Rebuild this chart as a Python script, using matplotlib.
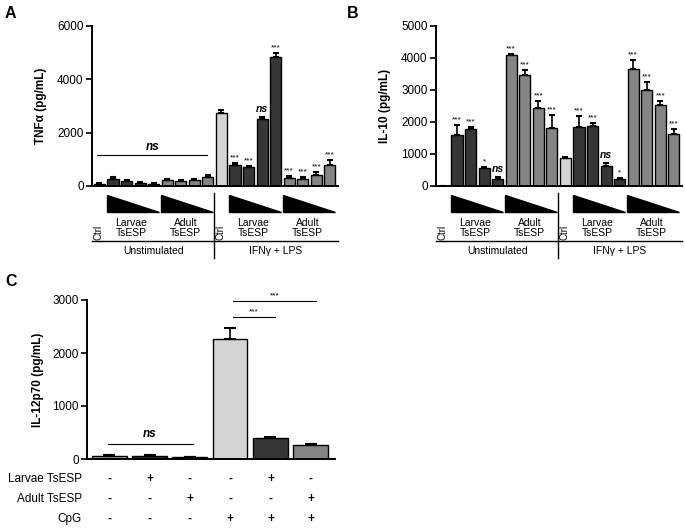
import numpy as np
import matplotlib
matplotlib.use("Agg")
import matplotlib.pyplot as plt
from matplotlib import transforms
from matplotlib.patches import Polygon

plt.rcParams["font.family"] = ["Liberation Sans", "DejaVu Sans"]

# colours per bar slot: ctrl, larvae x4, adult x4 (unstim), then same for IFNg+LPS
DARK = "#363636"
GRAY = "#858585"
LIGHT = "#d4d4d4"
bar_colors = (["white"] + [DARK] * 4 + [GRAY] * 4 +
              [LIGHT] + [DARK] * 4 + [GRAY] * 4)

# panel A - TNFa
tnf_vals = [80, 250, 200, 120, 90, 220, 200, 210, 350,
            2720, 800, 700, 2500, 4850, 300, 270, 430, 780]
tnf_err = [20, 100, 40, 30, 30, 40, 30, 40, 80,
           120, 60, 50, 80, 150, 80, 60, 100, 200]
tnf_sig = ["", "", "", "", "", "", "", "", "",
           "", "***", "***", "ns", "***", "***", "***", "***", "***"]

# panel B - IL-10
il10_vals = [10, 1600, 1780, 550, 220, 4080, 3470, 2430, 1820,
             870, 1850, 1880, 640, 220, 3650, 3000, 2520, 1640]
il10_err = [5, 300, 60, 30, 50, 30, 170, 220, 400,
            40, 330, 90, 80, 30, 280, 240, 130, 150]
il10_sig = ["", "***", "***", "*", "ns", "***", "***", "***", "***",
            "", "***", "***", "ns", "*", "***", "***", "***", "***"]

# panel C - IL-12p70
c_vals = [50, 60, 30, 2270, 390, 265]
c_err = [20, 20, 15, 200, 30, 25]
c_colors = ["#a3a3a3", DARK, DARK, LIGHT, DARK, GRAY]
c_rows = ["Larvae TsESP", "Adult TsESP", "CpG"]
c_table = [["-", "+", "-", "-", "+", "-"],
           ["-", "-", "+", "-", "-", "+"],
           ["-", "-", "-", "+", "+", "+"]]

fig = plt.figure(figsize=(6.85, 5.30), dpi=100)


def style(ax, ymax, step):
    for s in ["top", "right"]:
        ax.spines[s].set_visible(False)
    for s in ["left", "bottom"]:
        ax.spines[s].set_linewidth(1.4)
    ax.set_ylim(0, ymax)
    ax.set_yticks(np.arange(0, ymax + 1, step))
    ax.tick_params(axis="y", labelsize=8.5, length=4, width=1.2, pad=2)
    ax.set_xticks([])


def cytokine_panel(ax, vals, err, sig, ymax, step, ylabel):
    x = np.arange(len(vals))
    ax.bar(x, vals, width=0.82, color=bar_colors, edgecolor="black", linewidth=1)
    ax.errorbar(x, vals, yerr=[np.zeros(len(err)), err], fmt="none",
                ecolor="black", elinewidth=1.2, capsize=2, capthick=1.5)
    for xi, v, e, s in zip(x, vals, err, sig):
        if not s:
            continue
        if s == "ns":
            ax.text(xi, v + e + ymax * 0.02, s, ha="center", va="bottom",
                    fontsize=7.5, style="italic", fontweight="bold")
        else:
            ax.text(xi, v + e + ymax * 0.01, s, ha="center", va="bottom",
                    fontsize=6)
    style(ax, ymax, step)
    ax.set_xlim(-0.55, 17.6)
    ax.set_ylabel(ylabel, fontsize=8.5, fontweight="bold", labelpad=7)

    # labels below the axis
    tr = transforms.blended_transform_factory(ax.transData, ax.transAxes)
    for i0 in [1, 5, 10, 14]:
        tri = Polygon([[i0 - 0.45, -0.056], [i0 - 0.45, -0.1625],
                       [i0 + 3.4, -0.1625]], closed=True, color="black",
                      transform=tr, clip_on=False)
        ax.add_patch(tri)
        name = "Larvae\nTsESP" if i0 in (1, 10) else "Adult\nTsESP"
        ax.text(i0 + 1.35, -0.2625, name, transform=tr, ha="center",
                va="center", fontsize=7.5, linespacing=1.05)
    for xc in [-0.1, 8.9]:
        ax.text(xc, -0.29, "Ctrl", transform=tr, rotation=90, ha="center",
                va="center", fontsize=7)
    ax.plot([-0.55, 17.6], [-0.344, -0.344], transform=tr, color="black",
            lw=1, clip_on=False)
    ax.plot([8.45, 8.45], [-0.044, -0.45], transform=tr, color="black",
            lw=1, clip_on=False)
    ax.text(4.0, -0.406, "Unstimulated", transform=tr, ha="center",
            va="center", fontsize=7.5)
    ax.text(13.0, -0.406, "IFN\u03b3 + LPS", transform=tr, ha="center",
            va="center", fontsize=7.5)
    return ax


axA = fig.add_axes([92 / 685, 1 - 186 / 530, 246 / 685, 160 / 530])
cytokine_panel(axA, tnf_vals, tnf_err, tnf_sig, 6000, 2000,
               "TNF\u03b1 (pg/mL)")
axA.plot([-0.18, 7.94], [1150, 1150], color="black", lw=0.8)
axA.text(3.9, 1230, "ns", ha="center", va="bottom", fontsize=8.5,
         style="italic", fontweight="bold")

axB = fig.add_axes([436 / 685, 1 - 186 / 530, 246 / 685, 160 / 530])
cytokine_panel(axB, il10_vals, il10_err, il10_sig, 5000, 1000,
               "IL-10 (pg/mL)")

# panel C
axC = fig.add_axes([87 / 685, 1 - 459 / 530, 248 / 685, 159 / 530])
xc = np.arange(len(c_vals))
axC.bar(xc, c_vals, width=0.86, color=c_colors, edgecolor="black", linewidth=1)
axC.errorbar(xc, c_vals, yerr=[np.zeros(len(c_err)), c_err], fmt="none",
             ecolor="black", elinewidth=1.2, capsize=4, capthick=1.5)
style(axC, 3000, 1000)
axC.set_xlim(-0.55, 5.6)
axC.set_ylabel("IL-12p70 (pg/mL)", fontsize=8.5, fontweight="bold",
               labelpad=6)
axC.plot([-0.03, 2.08], [285, 285], color="black", lw=0.8)
axC.text(1.0, 350, "ns", ha="center", va="bottom", fontsize=8.5,
         style="italic", fontweight="bold")
axC.plot([3.07, 4.1], [2680, 2680], color="black", lw=0.8)
axC.text(3.58, 2710, "***", ha="center", va="bottom", fontsize=6)
axC.plot([3.07, 5.13], [2990, 2990], color="black", lw=0.8)
axC.text(4.1, 3020, "***", ha="center", va="bottom", fontsize=6,
         clip_on=False)
trC = transforms.blended_transform_factory(axC.transData, axC.transAxes)
for r, (lab, row) in enumerate(zip(c_rows, c_table)):
    yy = -0.126 - 0.126 * r
    axC.text(-0.02, yy, lab, transform=axC.transAxes, ha="right", va="center",
             fontsize=8.5)
    for xi, s in zip(xc, row):
        axC.text(xi, yy, s, transform=trC, ha="center", va="center",
                 fontsize=8.5, fontweight="bold")

fig.text(5 / 685, 1 - 14 / 530, "A", fontsize=11.5, fontweight="bold",
         va="center")
fig.text(347 / 685, 1 - 14 / 530, "B", fontsize=11.5, fontweight="bold",
         va="center")
fig.text(5 / 685, 1 - 282 / 530, "C", fontsize=11.5, fontweight="bold",
         va="center")

fig.savefig("out.png", dpi=100)
